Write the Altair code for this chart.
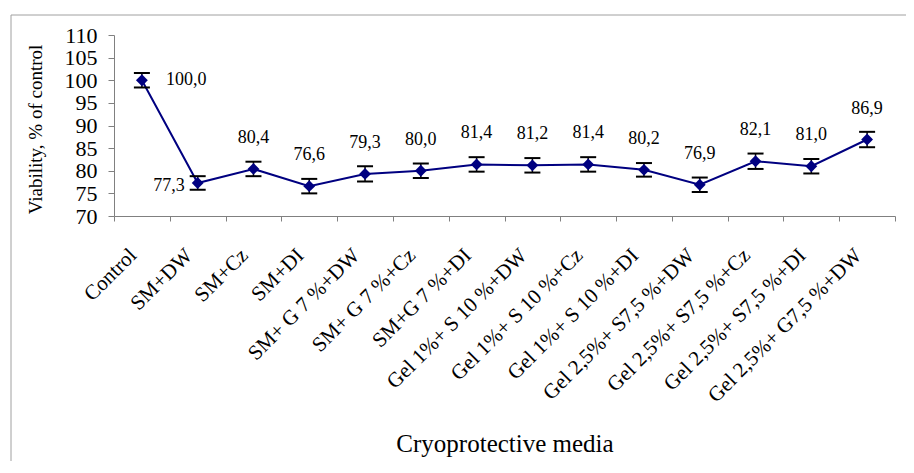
import altair as alt
import pandas as pd

categories = [
    "Control", "SM+DW", "SM+Cz", "SM+DI",
    "SM+ G 7 %+DW", "SM+ G 7 %+Cz", "SM+G 7 %+DI",
    "Gel 1%+ S 10 %+DW", "Gel 1%+ S 10 %+Cz", "Gel 1%+ S 10 %+DI",
    "Gel 2,5%+ S7,5 %+DW", "Gel 2,5%+ S7,5 %+Cz", "Gel 2,5%+ S7,5 %+DI",
    "Gel 2,5%+ G7,5 %+DW",
]
viability = [100.0, 77.3, 80.4, 76.6, 79.3, 80.0, 81.4, 81.2, 81.4, 80.2, 76.9, 82.1, 81.0, 86.9]
error = [1.6, 1.5, 1.6, 1.6, 1.7, 1.6, 1.6, 1.6, 1.6, 1.5, 1.6, 1.7, 1.6, 1.7]
label_side = ["right", "left"] + ["above"] * 12
y_ticks = [70, 75, 80, 85, 90, 95, 100, 105, 110]

df = pd.DataFrame({
    "cat": categories,
    "v": viability,
    "lo": [v - e for v, e in zip(viability, error)],
    "hi": [v + e for v, e in zip(viability, error)],
    "lab": [f"{v:.1f}".replace(".", ",") for v in viability],
    "side": label_side,
})

FONT = "Liberation Serif"
W, H = 781, 181

x_axis = alt.Axis(title="Cryoprotective media", labelAngle=-45, labelAlign="right",
                  labelBaseline="middle", labelPadding=31, labelOffset=-9,
                  labelFontSize=21, labelFont=FONT, labelColor="black",
                  labelOverlap=False, labelLimit=0, tickBand="extent",
                  tickSize=5, titleBaseline="alphabetic", titleY=235, titleFontSize=25)
y_axis = alt.Axis(title="Viability, % of control", values=y_ticks, grid=False,
                  tickSize=6, labelPadding=11, labelFontSize=22, labelFont=FONT,
                  labelOverlap=False, labelColor="black",
                  titleAngle=-90, titleX=-79, titleY=94, titleFontSize=19,
                  titleAlign="center", titleBaseline="middle")

x = alt.X("cat:N", sort=categories, scale=alt.Scale(paddingInner=0, paddingOuter=0), axis=x_axis)
y_scale = alt.Scale(domain=[70, 110], nice=False, zero=False)
yv = alt.Y("v:Q", scale=y_scale, axis=y_axis)
ylo = alt.Y("lo:Q", scale=y_scale, axis=y_axis)
yhi = alt.Y("hi:Q", scale=y_scale, axis=y_axis)

base = alt.Chart(df)

line = base.mark_line(color="#000080", strokeWidth=2).encode(x=x, y=yv)
frame = base.transform_filter(alt.datum.cat == "Control").mark_rect(
    fill=None, stroke="#a0a0a0", strokeWidth=1, clip=False
).encode(x=alt.value(-103), x2=alt.value(W + 30), y=alt.value(-20), y2=alt.value(427))
stem = base.mark_rule(color="black", strokeWidth=1.5).encode(x=x, y=ylo, y2="hi:Q")
cap_lo = base.mark_tick(color="black", size=16, thickness=2, opacity=1).encode(x=x, y=ylo)
cap_hi = base.mark_tick(color="black", size=16, thickness=2, opacity=1).encode(x=x, y=yhi)
pts = base.mark_point(shape="diamond", filled=True, size=140, color="#000080", opacity=1).encode(x=x, y=yv)

txt_kw = dict(font=FONT, fontSize=18, color="black", baseline="middle")
lab_above = base.transform_filter(alt.datum.side == "above").mark_text(dy=-31, **txt_kw).encode(
    x=x, y=yv, text="lab:N")
lab_right = base.transform_filter(alt.datum.side == "right").mark_text(dx=24, align="left", **txt_kw).encode(
    x=x, y=yv, text="lab:N")
lab_left = base.transform_filter(alt.datum.side == "left").mark_text(dx=-13, dy=3, align="right", **txt_kw).encode(
    x=x, y=yv, text="lab:N")

chart = alt.layer(line, frame, stem, cap_lo, cap_hi, pts, lab_above, lab_right, lab_left).properties(
    width=W, height=H,
    background="white",
    autosize=alt.AutoSizeParams(type="none"),
    padding={"left": 106, "top": 27, "right": 11, "bottom": 245},
).configure_view(stroke=None).configure_axis(
    labelFont=FONT, titleFont=FONT, labelColor="black", titleColor="black",
    titleFontWeight="normal", domainColor="#808080", tickColor="#808080",
).configure_text(font=FONT)

chart.save("out.html", embed_options={"renderer": "svg", "actions": False})
